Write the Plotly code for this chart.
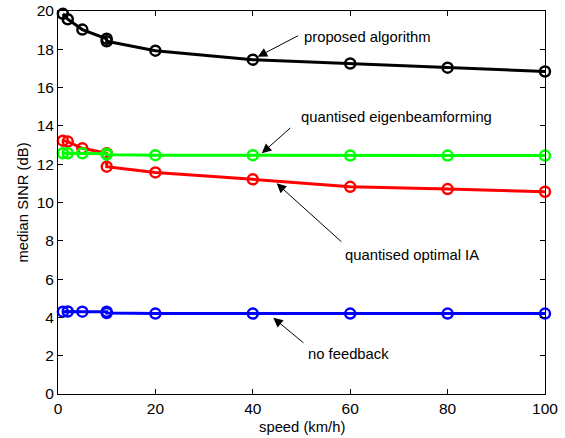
import plotly.graph_objects as go

speed = [1, 2, 5, 10, 10, 20, 40, 60, 80, 100]
proposed = [19.85, 19.57, 19.03, 18.55, 18.42, 17.93, 17.46, 17.26, 17.04, 16.84]
eigen = [12.57, 12.57, 12.57, 12.55, 12.50, 12.47, 12.47, 12.45, 12.45, 12.45]
optimal_ia = [13.23, 13.18, 12.83, 12.57, 11.87, 11.57, 11.21, 10.82, 10.70, 10.56]
no_feedback = [4.30, 4.31, 4.30, 4.30, 4.23, 4.20, 4.20, 4.20, 4.20, 4.20]

x_ticks = [0, 20, 40, 60, 80, 100]
y_ticks = [0, 2, 4, 6, 8, 10, 12, 14, 16, 18, 20]

FONT = "Liberation Sans, Arial, Helvetica, sans-serif"

series = [
    ("proposed algorithm", proposed, "#000000"),
    ("quantised optimal IA", optimal_ia, "#ff0000"),
    ("quantised eigenbeamforming", eigen, "#00ff00"),
    ("no feedback", no_feedback, "#0000ff"),
]

fig = go.Figure()
for name, vals, col in series:
    fig.add_trace(go.Scatter(
        x=speed, y=vals, name=name, mode="lines+markers",
        line=dict(color=col, width=3),
        marker=dict(symbol="circle-open", size=10, color=col, line=dict(width=2.5, color=col)),
        showlegend=False, cliponaxis=False,
    ))

# annotation labels: (text, text_x, text_y, head_x, head_y, tail_x, tail_y)
labels = [
    ("proposed algorithm", 50.1, 18.64, 41.0, 17.61, 49.6, 18.75),
    ("quantised eigenbeamforming", 49.4, 14.46, 41.85, 12.57, 48.0, 13.96),
    ("quantised optimal IA", 58.5, 7.26, 44.9, 11.0, 58.5, 7.88),
    ("no feedback", 50.9, 2.09, 44.2, 3.98, 50.7, 2.61),
]
for text, tx, ty, hx, hy, ax_, ay_ in labels:
    fig.add_annotation(x=tx, y=ty, text=text, showarrow=False, xanchor="left", yanchor="middle",
                       font=dict(family=FONT, size=14.8, color="#000000"))
    fig.add_annotation(x=hx, y=hy, ax=ax_, ay=ay_, axref="x", ayref="y", text="",
                       showarrow=True, arrowhead=2, arrowsize=1.9, arrowwidth=1, arrowcolor="#000000")

# axis titles
fig.add_annotation(x=0.5, y=0, xref="paper", yref="paper", text="speed (km/h)", showarrow=False,
                   xanchor="center", yanchor="middle", yshift=-33,
                   font=dict(family=FONT, size=14.8, color="#000000"))
fig.add_annotation(x=0, y=0.5, xref="paper", yref="paper", text="median SINR (dB)", showarrow=False,
                   xanchor="center", yanchor="middle", xshift=-36, textangle=-90,
                   font=dict(family=FONT, size=14.8, color="#000000"))

axis_common = dict(
    showgrid=False, zeroline=False, showline=True, linecolor="#000000", linewidth=1,
    mirror="ticks", ticks="inside", ticklen=5, tickcolor="#000000", tickwidth=1,
    tickfont=dict(family=FONT, size=15.5, color="#000000"),
)

fig.update_xaxes(range=[0, 100], tickvals=x_ticks, ticktext=[str(v) for v in x_ticks], **axis_common)
fig.update_yaxes(range=[0, 20], tickvals=y_ticks, ticktext=[str(v) for v in y_ticks], **axis_common)

fig.update_layout(
    width=565, height=438,
    margin=dict(l=58, r=20, t=11, b=44, autoexpand=False),
    paper_bgcolor="#ffffff", plot_bgcolor="#ffffff",
    font=dict(family=FONT, size=14.8, color="#000000"),
    hovermode=False,
)

fig.write_html("out.html", config={"displayModeBar": False},
               post_script="document.body.style.margin='0px';document.body.style.overflow='hidden';")
